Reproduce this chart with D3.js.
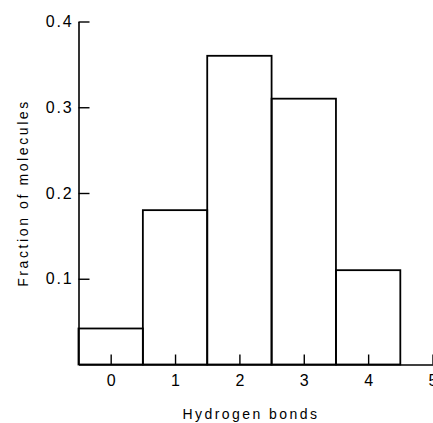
<!DOCTYPE html>
<html>
<head>
<meta charset="utf-8">
<script src="https://cdn.jsdelivr.net/npm/d3@7"></script>
<style>
  body { margin: 0; background: #fff; }
  svg { display: block; }
  text { font-family: Arial, "Liberation Sans", Helvetica, sans-serif; fill: #000; }
</style>
</head>
<body>
<svg id="chart"></svg>
<script>
const bonds     = [0, 1, 2, 3, 4];
const fractions = [0.042, 0.18, 0.36, 0.31, 0.11];
const xTicks    = [0, 1, 2, 3, 4, 5];
const yTicks    = [0.1, 0.2, 0.3, 0.4];
// —————————————————————————————

const fullW = 433;
const fullH = 423;
const margin = { top: 21.5, right: 0.5, bottom: 58.5, left: 78.5 };
const width  = fullW - margin.left - margin.right;
const height = fullH - margin.top - margin.bottom;

const svg = d3.select('#chart')
  .attr('width', fullW)
  .attr('height', fullH);

const g = svg.append('g')
  .attr('transform', `translate(${margin.left},${margin.top})`);

const x = d3.scaleLinear().domain([-0.5, 5]).range([0, width]);
const y = d3.scaleLinear().domain([0, 0.4]).range([height, 0]);

// bars (histogram boxes)
g.selectAll('rect.bar')
  .data(bonds)
  .join('rect')
    .attr('class', 'bar')
    .attr('x', (d) => x(d - 0.5))
    .attr('y', (d, i) => y(fractions[i]))
    .attr('width', (d) => x(d + 0.5) - x(d - 0.5))
    .attr('height', (d, i) => height - y(fractions[i]))
    .attr('fill', 'none')
    .attr('stroke', '#000')
    .attr('stroke-width', 1.8);

// x axis, ticks pointing up
const xAxis = g.append('g')
  .attr('transform', `translate(0,${height})`)
  .call(d3.axisBottom(x).tickValues(xTicks).tickFormat(d3.format('d'))
    .tickSizeInner(-10).tickSizeOuter(0).tickPadding(10));

// y axis, ticks pointing right
const yAxis = g.append('g')
  .call(d3.axisLeft(y).tickValues(yTicks).tickFormat(d3.format('.1f'))
    .tickSizeInner(-11).tickSizeOuter(0).tickPadding(5));

[xAxis, yAxis].forEach(ax => {
  ax.select('.domain').attr('stroke', '#000').attr('stroke-width', 1.6);
  ax.selectAll('.tick line').attr('stroke', '#000').attr('stroke-width', 1.4);
  ax.selectAll('.tick text')
    .attr('font-size', '16px')
    .style('font-family', 'Arial, "Liberation Sans", sans-serif');
});
yAxis.selectAll('.tick text').attr('letter-spacing', '1.8px');

// axis labels
svg.append('text')
  .attr('x', 251)
  .attr('y', 419)
  .attr('text-anchor', 'middle')
  .attr('font-size', '14px')
  .attr('letter-spacing', '2.45px')
  .text('Hydrogen bonds');

svg.append('text')
  .attr('transform', `translate(28,193) rotate(-90)`)
  .attr('text-anchor', 'middle')
  .attr('font-size', '14px')
  .attr('letter-spacing', '2.6px')
  .text('Fraction of molecules');
</script>
</body>
</html>
